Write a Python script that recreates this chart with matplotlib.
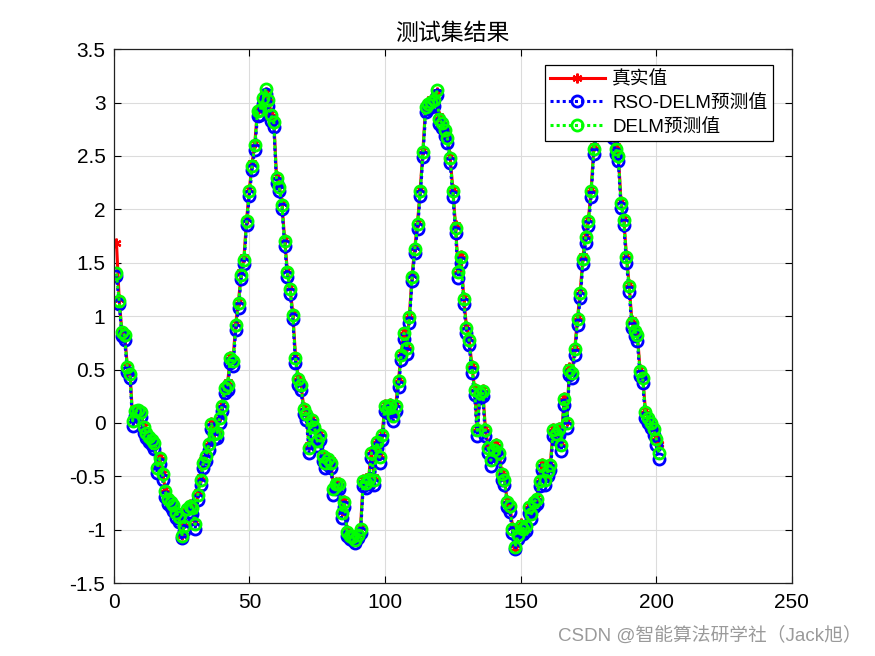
import numpy as np
import matplotlib
matplotlib.use("Agg")
import matplotlib.pyplot as plt
from matplotlib.ticker import FuncFormatter

plt.rcParams['font.family'] = ['Liberation Sans', 'Noto Sans CJK SC', 'DejaVu Sans']
plt.rcParams['axes.unicode_minus'] = False

# true values (真实值)
true_vals = [
    1.69, 1.16, 0.86, 0.84, 0.53, 0.47, 0.03, 0.12, 0.13, 0.12,
    -0.03, -0.08, -0.12, -0.14, -0.18, -0.40, -0.31, -0.47, -0.62, -0.69,
    -0.72, -0.75, -0.82, -0.86, -1.05, -0.94, -0.79, -0.76, -0.79, -0.93,
    -0.65, -0.51, -0.35, -0.29, -0.18, 0.01, -0.08, -0.07, 0.07, 0.18,
    0.35, 0.38, 0.63, 0.60, 0.94, 1.14, 1.41, 1.55, 1.91, 2.19,
    2.43, 2.62, 2.94, 2.95, 3.06, 3.10, 3.04, 2.90, 2.84, 2.31,
    2.23, 2.06, 1.72, 1.43, 1.27, 1.03, 0.63, 0.43, 0.38, 0.15,
    0.10, -0.21, 0.05, -0.02, -0.15, -0.09, -0.29, -0.35, -0.32, -0.35,
    -0.60, -0.55, -0.55, -0.82, -0.72, -1.00, -1.04, -1.05, -1.08, -1.03,
    -0.97, -0.52, -0.54, -0.50, -0.26, -0.51, -0.16, -0.30, -0.09, 0.18,
    0.16, 0.19, 0.09, 0.18, 0.41, 0.66, 0.86, 0.72, 1.01, 1.39,
    1.65, 1.88, 2.19, 2.56, 2.98, 3.01, 3.03, 3.04, 3.10, 2.87,
    2.83, 2.76, 2.69, 2.50, 2.19, 1.85, 1.43, 1.57, 1.18, 0.91,
    0.80, 0.54, 0.33, -0.05, 0.30, 0.32, -0.05, -0.21, -0.33, -0.23,
    -0.19, -0.26, -0.46, -0.51, -0.72, -0.76, -0.97, -1.17, -1.03, -0.94,
    -0.97, -0.94, -0.77, -0.83, -0.72, -0.69, -0.52, -0.37, -0.51, -0.43,
    -0.37, -0.05, -0.08, -0.04, -0.19, 0.24, 0.02, 0.52, 0.49, 0.71,
    0.99, 1.24, 1.56, 1.76, 1.91, 2.19, 2.59, 2.80, 2.97, 3.07,
    3.08, 3.00, 2.87, 2.74, 2.59, 2.52, 2.08, 1.92, 1.57, 1.30,
    0.96, 0.88, 0.84, 0.51, 0.44, 0.12, 0.07, 0.02, -0.04, -0.13,
    -0.20,
]

# RSO-DELM predictions
rso_pred = [
    1.38, 1.11, 0.81, 0.78, 0.48, 0.42, -0.03, 0.07, 0.08, 0.06,
    -0.09, -0.14, -0.18, -0.21, -0.24, -0.47, -0.38, -0.53, -0.69, -0.76,
    -0.79, -0.82, -0.89, -0.93, -1.08, -1.01, -0.86, -0.83, -0.85, -0.99,
    -0.72, -0.58, -0.42, -0.36, -0.25, -0.06, -0.15, -0.14, 0.00, 0.11,
    0.28, 0.31, 0.56, 0.53, 0.87, 1.08, 1.35, 1.49, 1.85, 2.13,
    2.37, 2.56, 2.87, 2.88, 2.99, 3.08, 2.97, 2.83, 2.77, 2.25,
    2.17, 2.00, 1.66, 1.37, 1.21, 0.97, 0.56, 0.36, 0.31, 0.08,
    0.03, -0.28, -0.02, -0.09, -0.22, -0.16, -0.36, -0.42, -0.39, -0.42,
    -0.67, -0.62, -0.62, -0.89, -0.79, -1.06, -1.09, -1.10, -1.12, -1.08,
    -1.03, -0.59, -0.61, -0.57, -0.33, -0.58, -0.23, -0.37, -0.16, 0.11,
    0.09, 0.12, 0.02, 0.11, 0.34, 0.59, 0.79, 0.65, 0.94, 1.33,
    1.59, 1.82, 2.13, 2.49, 2.91, 2.94, 2.96, 2.97, 3.07, 2.80,
    2.76, 2.69, 2.62, 2.43, 2.12, 1.78, 1.36, 1.50, 1.11, 0.84,
    0.73, 0.47, 0.26, -0.12, 0.23, 0.25, -0.12, -0.28, -0.40, -0.30,
    -0.26, -0.33, -0.53, -0.58, -0.79, -0.83, -1.03, -1.18, -1.09, -1.01,
    -1.04, -1.01, -0.84, -0.90, -0.79, -0.76, -0.59, -0.44, -0.58, -0.50,
    -0.44, -0.12, -0.15, -0.11, -0.26, 0.17, -0.05, 0.45, 0.42, 0.64,
    0.92, 1.17, 1.49, 1.69, 1.84, 2.12, 2.52, 2.73, 2.90, 3.00,
    3.05, 2.93, 2.80, 2.67, 2.52, 2.45, 2.01, 1.85, 1.50, 1.23,
    0.89, 0.81, 0.77, 0.44, 0.37, 0.05, 0.00, -0.05, -0.11, -0.21,
    -0.34,
]

# DELM predictions
delm_pred = [
    1.40, 1.14, 0.85, 0.82, 0.52, 0.46, 0.02, 0.11, 0.12, 0.10,
    -0.04, -0.09, -0.13, -0.16, -0.19, -0.42, -0.33, -0.48, -0.64, -0.71,
    -0.74, -0.77, -0.84, -0.88, -1.06, -0.96, -0.81, -0.78, -0.80, -0.95,
    -0.67, -0.53, -0.37, -0.31, -0.20, -0.01, -0.10, -0.09, 0.05, 0.16,
    0.33, 0.36, 0.61, 0.58, 0.92, 1.12, 1.39, 1.53, 1.89, 2.17,
    2.41, 2.60, 2.92, 2.93, 3.04, 3.13, 3.02, 2.88, 2.82, 2.29,
    2.21, 2.04, 1.70, 1.41, 1.25, 1.01, 0.61, 0.41, 0.36, 0.13,
    0.08, -0.23, 0.03, -0.04, -0.17, -0.11, -0.31, -0.37, -0.34, -0.37,
    -0.62, -0.57, -0.57, -0.84, -0.74, -1.02, -1.06, -1.07, -1.10, -1.05,
    -0.99, -0.54, -0.56, -0.52, -0.28, -0.53, -0.18, -0.32, -0.11, 0.16,
    0.14, 0.17, 0.07, 0.16, 0.39, 0.64, 0.84, 0.70, 0.99, 1.37,
    1.63, 1.86, 2.17, 2.54, 2.96, 2.99, 3.01, 3.02, 3.12, 2.85,
    2.81, 2.74, 2.67, 2.48, 2.17, 1.83, 1.41, 1.55, 1.16, 0.89,
    0.78, 0.52, 0.31, -0.07, 0.28, 0.30, -0.07, -0.23, -0.35, -0.25,
    -0.21, -0.28, -0.48, -0.53, -0.74, -0.78, -0.99, -1.16, -1.05, -0.96,
    -0.99, -0.96, -0.79, -0.85, -0.74, -0.71, -0.54, -0.39, -0.53, -0.45,
    -0.39, -0.07, -0.10, -0.06, -0.21, 0.22, 0.00, 0.50, 0.47, 0.69,
    0.97, 1.22, 1.54, 1.74, 1.89, 2.17, 2.57, 2.78, 2.95, 3.05,
    3.10, 2.98, 2.85, 2.72, 2.57, 2.50, 2.06, 1.90, 1.55, 1.28,
    0.94, 0.86, 0.82, 0.49, 0.42, 0.10, 0.05, 0.00, -0.06, -0.15,
    -0.28,
]

x = np.arange(1, len(true_vals) + 1)

fig = plt.figure(figsize=(8.75, 6.56), dpi=100)
ax = fig.add_axes([0.130, 0.111, 0.775, 0.814])

ax.plot(x, true_vals, color='red', linestyle='-', linewidth=2.2,
        marker=(6, 2, 0), markersize=7, markeredgewidth=1.6, label='真实值')
ax.plot(x, rso_pred, color='blue', linestyle=(0, (1, 1)), linewidth=2.2,
        marker='o', markersize=8, markerfacecolor='none', markeredgewidth=2,
        label='RSO-DELM预测值')
ax.plot(x, delm_pred, color='#00ff00', linestyle=(0, (1, 1)), linewidth=2.2,
        marker='o', markersize=8, markerfacecolor='none', markeredgewidth=2,
        label='DELM预测值')

ax.set_xlim(0, 250)
ax.set_ylim(-1.5, 3.5)
ax.set_xticks(np.arange(0, 251, 50))
ax.set_yticks(np.arange(-1.5, 3.51, 0.5))
ax.yaxis.set_major_formatter(FuncFormatter(lambda v, p: '%g' % round(v, 2)))
ax.grid(True, color='#dcdcdc', linewidth=0.8)
ax.set_axisbelow(True)
ax.tick_params(direction='in', top=True, right=True, labelsize=15, length=5, width=0.8)
ax.tick_params(axis='x', pad=7)
ax.tick_params(axis='y', pad=6)
for s in ax.spines.values():
    s.set_linewidth(0.9)
    s.set_color('#222222')

ax.set_title('测试集结果', fontsize=16.5, pad=7)

leg = ax.legend(loc='upper right', bbox_to_anchor=(0.972, 0.970), fontsize=13.5,
                fancybox=False, framealpha=1, edgecolor='black',
                handlelength=2.9, borderpad=0.3, labelspacing=0.35, handletextpad=0.4,
                borderaxespad=0.0)
leg.get_frame().set_linewidth(0.9)

fig.text(0.985, 0.0305, 'CSDN @智能算法研学社（Jack旭）', ha='right', va='center',
         fontsize=13.5, color='#9a9a9a')

fig.savefig('out.png', dpi=100)
